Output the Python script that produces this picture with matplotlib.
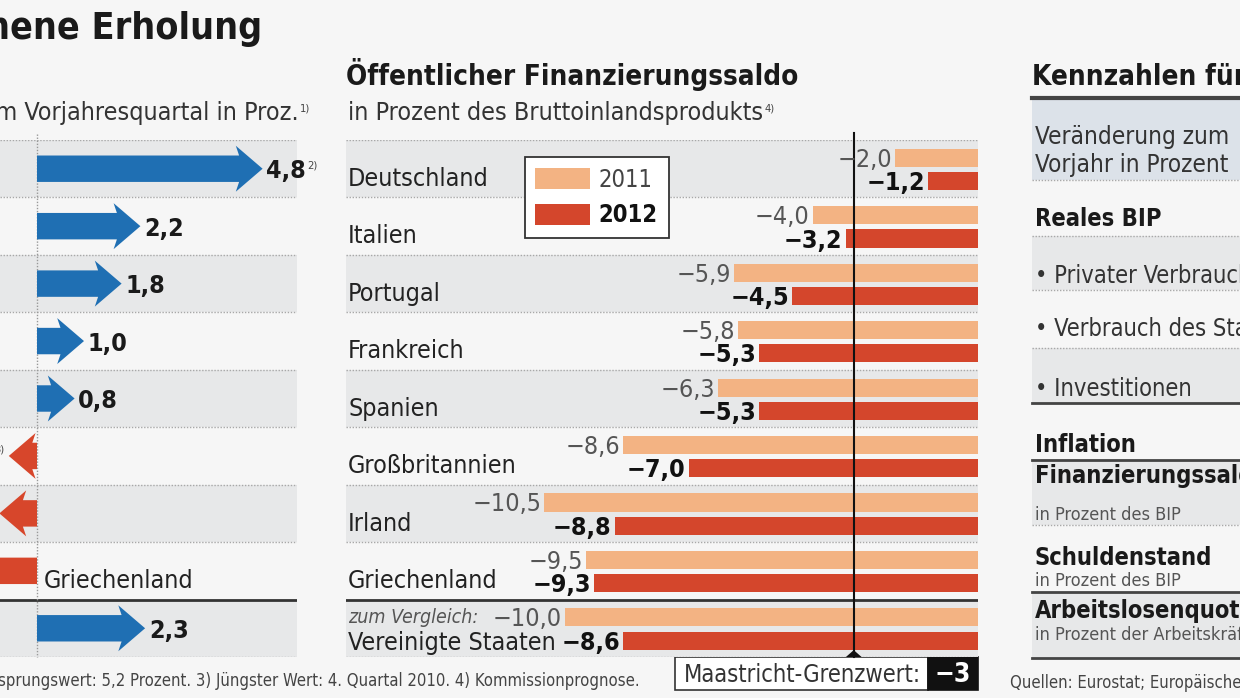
import numpy as np
import matplotlib
matplotlib.use('Agg')
import matplotlib.pyplot as plt
from matplotlib.patches import Rectangle, Polygon

plt.rcParams['font.family'] = ['Liberation Sans Narrow', 'DejaVu Sans']
plt.rcParams['font.stretch'] = 'condensed'

# left panel: change vs. previous-year quarter (percent)
growth = [4.8, 2.2, 1.8, 1.0, 0.8, -0.6, -0.8, -6.6, 2.3]
growth_labels = ['4,8', '2,2', '1,8', '1,0', '0,8', '−0,6', '−0,8', '−6,6', '2,3']
growth_notes = ['2)', '', '', '', '', '3)', '', '', '']

# centre panel: public balance, percent of GDP
countries = ['Deutschland', 'Italien', 'Portugal', 'Frankreich', 'Spanien',
             'Großbritannien', 'Irland', 'Griechenland', 'Vereinigte Staaten']
saldo_2011 = [-2.0, -4.0, -5.9, -5.8, -6.3, -8.6, -10.5, -9.5, -10.0]
saldo_2012 = [-1.2, -3.2, -4.5, -5.3, -5.3, -7.0, -8.8, -9.3, -8.6]
maastricht = -3

# right panel: row texts
kenn_head = ['Veränderung zum', 'Vorjahr in Prozent']
kenn_rows = ['Reales BIP', '• Privater Verbrauch', '• Verbrauch des Staates',
             '• Investitionen', 'Inflation']
kenn_bold = [True, False, False, False, True]
kenn_rows2 = ['Finanzierungssaldo', 'Schuldenstand', 'Arbeitslosenquote']
kenn_sub2 = ['in Prozent des BIP', 'in Prozent des BIP', 'in Prozent der Arbeitskräfte']

BG = '#f6f6f6'
BAND = '#e7e8e9'
DOT = '#a8a8a8'
BLUE = '#1f6fb3'
RED = '#d7462b'
C11 = '#f3b383'
C12 = '#d4462c'
TXT = '#1a1a1a'

W, H = 1240, 698
fig = plt.figure(figsize=(12.4, 6.98), dpi=100, facecolor=BG)
bg = fig.add_axes([0, 0, 1, 1])
bg.set_xlim(0, W)
bg.set_ylim(H, 0)
bg.axis('off')


def px_axes(x0, y0, x1, y1):
    return fig.add_axes([x0 / W, 1 - y1 / H, (x1 - x0) / W, (y1 - y0) / H])


def rows_frame(ax, n):
    ax.set_ylim(n - 0.5, -0.5)
    ax.axis('off')
    for i in range(0, n, 2):
        ax.axhspan(i - 0.5, i + 0.5, color=BAND, lw=0, zorder=0)
    for b in np.arange(-0.5, n, 1.0):
        if b == n - 1.5:
            ax.axhline(b, color='#333333', lw=2, zorder=1)
        else:
            ax.axhline(b, color=DOT, lw=1, ls=(0, (1, 1.2)), zorder=1)


def fmt(v):
    s = ('%.1f' % abs(v)).replace('.', ',')
    return ('−' + s) if v < 0 else s


# ---------- title ----------
bg.text(262, 39, 'hene Erholung', ha='right', va='baseline', fontsize=27,
        weight='bold', color=TXT)

# ---------- left panel ----------
ax1 = px_axes(0, 140, 297, 657)
ax1.set_xlim(-37 / 47, 260 / 47)
rows_frame(ax1, len(growth))
ax1.plot([0, 0], [-0.6, 8.5], color='#999999', lw=1, ls=(0, (1, 1.2)),
         zorder=1, clip_on=False)

sh, hw, hl, sw = 0.23, 0.40, 0.57, 0.07
for i, v in enumerate(growth):
    s = 1 if v > 0 else -1
    base = v - s * hl
    pts = [(0, i - sh), (base + s * sw, i - sh), (base, i - hw), (v, i),
           (base, i + hw), (base + s * sw, i + sh), (0, i + sh)]
    ax1.add_patch(Polygon(pts, closed=True, fc=BLUE if v > 0 else RED,
                          ec='none', zorder=3))
    if v > 0:
        t = ax1.text(v + 0.08, i + 0.17, growth_labels[i], ha='left',
                     va='baseline', fontsize=18, weight='bold', color=TXT)
        if growth_notes[i]:
            ax1.annotate(growth_notes[i], xy=(1, 1), xycoords=t,
                         xytext=(1, -1), textcoords='offset points',
                         ha='left', va='top', fontsize=8, color='#444444')
    else:
        if growth_notes[i]:
            n = ax1.text(v - 0.1, i - 0.12, growth_notes[i], ha='right',
                         va='center', fontsize=8, color='#444444')
            ax1.annotate(growth_labels[i], xy=(0, 0), xycoords=n,
                         ha='right', va='center', fontsize=18,
                         weight='bold', color=TXT)

ax1.text(0.15, 7 + 0.3, 'Griechenland', ha='left', va='baseline',
         fontsize=18, color='#222222')

sub1 = bg.text(299, 120, 'Veränderung zum Vorjahresquartal in Proz.',
               ha='right', va='baseline', fontsize=18, color='#333333')
bg.annotate('1)', xy=(1, 1), xycoords=sub1, xytext=(1, -2),
            textcoords='offset points', ha='left', va='top', fontsize=8,
            color='#444444')

bg.text(640, 686, '1) Veränderung zum Vorquartal. 2) Ursprungswert: 5,2 Prozent. '
        '3) Jüngster Wert: 4. Quartal 2010. 4) Kommissionprognose.',
        ha='right', va='baseline', fontsize=12, color='#444444')

# ---------- centre panel ----------
ax2 = px_axes(346, 140, 978, 657)
x_left = -(977.5 - 346) / 41.25
ax2.set_xlim(x_left, 0.5 / 41.25)
rows_frame(ax2, len(countries))

y = np.arange(len(countries))
b11 = ax2.barh(y - 0.19, saldo_2011, height=0.315, color=C11, lw=0,
               zorder=2, label='2011')
b12 = ax2.barh(y + 0.215, saldo_2012, height=0.315, color=C12, lw=0,
               zorder=2, label='2012')

for i in range(len(countries)):
    ax2.text(saldo_2011[i] - 0.07, i - 0.19 + 0.157, fmt(saldo_2011[i]),
             ha='right', va='baseline', fontsize=18, color='#555555', zorder=5)
    ax2.text(saldo_2012[i] - 0.07, i + 0.215 + 0.157, fmt(saldo_2012[i]),
             ha='right', va='baseline', fontsize=18, weight='bold',
             color='#111111', zorder=5)
    if i == len(countries) - 1:
        ax2.text(x_left + 0.05, i + 0.38, countries[i], ha='left',
                 va='baseline', fontsize=18, color='#222222')
        ax2.text(x_left + 0.05, i - 0.09, 'zum Vergleich:', ha='left',
                 va='baseline', fontsize=14, style='italic', color='#555555')
    else:
        ax2.text(x_left + 0.05, i + 0.3, countries[i], ha='left',
                 va='baseline', fontsize=18, color='#222222')

ax2.plot([maastricht, maastricht], [-0.62, 8.5], color='#111111', lw=1.5,
         zorder=4, clip_on=False)
ax2.add_patch(Polygon([(maastricht - 0.19, 8.5), (maastricht + 0.19, 8.5),
                       (maastricht, 8.5 - 0.12)], closed=True, fc='#111111',
                      ec='none', zorder=4, clip_on=False))

leg = ax2.legend(handles=[b11, b12], loc='upper left',
                 bbox_to_anchor=(0.283, 0.967), borderaxespad=0,
                 fontsize=17, frameon=True,
                 fancybox=False, framealpha=1, edgecolor='#333333',
                 facecolor='white', handlelength=2.3, handleheight=1.0,
                 handletextpad=0.38, borderpad=0.45, labelspacing=0.5)
leg.get_frame().set_linewidth(1.3)
leg.get_texts()[0].set_color('#444444')
leg.get_texts()[1].set_fontweight('bold')
leg.get_texts()[1].set_color('#111111')
leg.set_zorder(6)

bg.text(346, 85, 'Öffentlicher Finanzierungssaldo', ha='left',
        va='baseline', fontsize=20, weight='bold', color=TXT)
sub2 = bg.text(348, 120, 'in Prozent des Bruttoinlandsprodukts', ha='left',
               va='baseline', fontsize=18, color='#333333')
bg.annotate('4)', xy=(1, 1), xycoords=sub2, xytext=(1, -2),
            textcoords='offset points', ha='left', va='top', fontsize=8,
            color='#444444')

# Maastricht box
bg.add_patch(Rectangle((675, 657), 253, 33, fc='white', ec='#333333', lw=1.2))
bg.add_patch(Rectangle((928, 657), 50, 33, fc='#111111', ec='#111111', lw=1.2))
bg.text(684, 682, 'Maastricht-Grenzwert:', ha='left', va='baseline',
        fontsize=17, color='#333333')
bg.text(953, 682, fmt(maastricht).replace(',0', ''), ha='center',
        va='baseline', fontsize=19, weight='bold', color='white')

# ---------- right panel ----------
X0 = 1032
bg.text(X0, 85, 'Kennzahlen für den Euroraum', ha='left', va='baseline',
        fontsize=20, weight='bold', color=TXT)
bg.add_patch(Rectangle((X0, 98), W - X0, 82, fc='#dce2e9', ec='none'))
bg.add_patch(Rectangle((X0, 236), W - X0, 54, fc=BAND, ec='none'))
bg.add_patch(Rectangle((X0, 348), W - X0, 55, fc=BAND, ec='none'))
bg.add_patch(Rectangle((X0, 460), W - X0, 65, fc=BAND, ec='none'))
bg.add_patch(Rectangle((X0, 592), W - X0, 66, fc=BAND, ec='none'))
bg.plot([X0, W], [98, 98], color='#444444', lw=3)
for yl in [180, 236, 290, 348, 525]:
    bg.plot([X0, W], [yl, yl], color=DOT, lw=1, ls=(0, (1, 1.2)))
for yl in [403, 460, 592, 658]:
    bg.plot([X0, W], [yl, yl], color='#444444', lw=2)

for k, yy in zip(kenn_head, [144, 172]):
    bg.text(X0 + 3, yy, k, ha='left', va='baseline', fontsize=17.5,
            color='#333333')
for k, bold, yy in zip(kenn_rows, kenn_bold, [226, 283, 336, 396, 452]):
    bg.text(X0 + 3, yy, k, ha='left', va='baseline', fontsize=17,
            weight='bold' if bold else 'normal',
            color=TXT if bold else '#333333')
for k, s, yy, ys in zip(kenn_rows2, kenn_sub2, [483, 565, 618], [520, 586, 640]):
    bg.text(X0 + 3, yy, k, ha='left', va='baseline', fontsize=17,
            weight='bold', color=TXT)
    bg.text(X0 + 3, ys, s, ha='left', va='baseline', fontsize=13,
            color='#555555')

bg.text(1010, 688, 'Quellen: Eurostat; Europäische Kommission', ha='left',
        va='baseline', fontsize=12, color='#444444')

fig.savefig('out.png', dpi=100, facecolor=BG)
